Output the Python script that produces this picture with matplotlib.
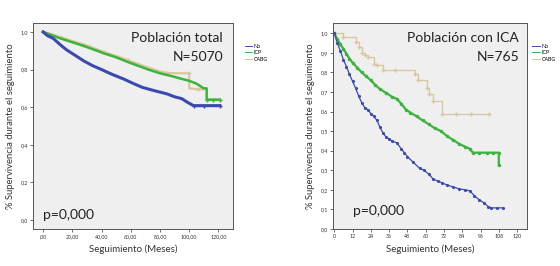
import matplotlib
matplotlib.use("Agg")
import matplotlib.pyplot as plt
from matplotlib.lines import Line2D

plt.rcParams['font.family'] = ['Lato', 'DejaVu Sans']

# ---- left panel: Poblacion total (N=5070) ----
tot_no_x = [0, 3, 7, 12, 16, 22, 28, 34, 40, 47, 55, 62, 68, 75, 80, 85, 90, 95, 99, 103, 110, 121]
tot_no_y = [1.0, 0.98, 0.965, 0.93, 0.905, 0.875, 0.845, 0.82, 0.80, 0.775, 0.75, 0.725, 0.705, 0.69, 0.68, 0.67, 0.655, 0.645, 0.625, 0.608, 0.608, 0.608]
tot_icp_x = [0, 5, 12, 20, 28, 35, 42, 50, 58, 65, 72, 80, 88, 95, 100, 105, 110, 112, 112, 116, 121]
tot_icp_y = [1.0, 0.985, 0.965, 0.945, 0.925, 0.905, 0.885, 0.865, 0.84, 0.82, 0.80, 0.78, 0.765, 0.75, 0.74, 0.725, 0.70, 0.70, 0.64, 0.64, 0.64]
tot_cabg_x = [0, 5, 12, 20, 28, 35, 42, 50, 58, 65, 72, 80, 85, 92, 100, 100, 106, 110]
tot_cabg_y = [1.0, 0.99, 0.972, 0.952, 0.933, 0.913, 0.893, 0.872, 0.85, 0.83, 0.81, 0.79, 0.782, 0.78, 0.78, 0.70, 0.695, 0.695]

# ---- right panel: Poblacion con ICA (N=765) ----
ica_no_x = [0, 2, 4, 6, 8, 10, 12, 14, 16, 18, 20, 22, 24, 26, 28, 30, 32, 34, 36, 38, 41, 44, 46, 48,
            52, 56, 59, 62, 65, 68, 71, 74, 78, 82, 86, 89, 92, 95, 98, 101, 103, 107, 111]
ica_no_y = [1.0, 0.95, 0.91, 0.865, 0.83, 0.79, 0.755, 0.72, 0.68, 0.645, 0.62, 0.61, 0.59, 0.575, 0.555, 0.52, 0.49, 0.47, 0.46, 0.45, 0.44, 0.41, 0.39, 0.37,
            0.34, 0.31, 0.30, 0.28, 0.255, 0.245, 0.235, 0.225, 0.215, 0.205, 0.20, 0.195, 0.17, 0.15, 0.135, 0.115, 0.108, 0.108, 0.108]
ica_icp_x = [0, 2, 4, 6, 8, 10, 12, 15, 18, 21, 24, 27, 30, 34, 38, 41, 44, 47, 50, 54, 58, 62, 66, 70,
             74, 78, 82, 86, 89, 91, 95, 100, 104, 108, 108]
ica_icp_y = [1.0, 0.97, 0.945, 0.92, 0.895, 0.87, 0.85, 0.825, 0.80, 0.78, 0.76, 0.735, 0.715, 0.695, 0.675, 0.665, 0.64, 0.61, 0.595, 0.575, 0.555, 0.535, 0.515, 0.50,
             0.475, 0.455, 0.435, 0.42, 0.41, 0.39, 0.39, 0.39, 0.39, 0.39, 0.325]
ica_cabg_x = [0, 6, 14, 16, 18, 20, 22, 26, 28, 32, 40, 53, 55, 61, 62, 64.5, 71, 80, 90, 101.5]
ica_cabg_y = [1.0, 0.98, 0.955, 0.93, 0.9, 0.89, 0.88, 0.845, 0.84, 0.81, 0.81, 0.79, 0.76, 0.72, 0.69, 0.655, 0.59, 0.59, 0.59, 0.59]

groups = ["No", "ICP", "CABG"]
colors = ["#3a4ab0", "#3cb43c", "#d8c79c"]

fig = plt.figure(figsize=(5.6, 2.66), dpi=100)
ax1 = fig.add_axes([0.059, 0.139, 0.357, 0.775])
ax2 = fig.add_axes([0.595, 0.139, 0.346, 0.775])

for ax in (ax1, ax2):
    ax.set_facecolor("#efefef")
    for s in ax.spines.values():
        s.set_color("#555555")
        s.set_linewidth(0.7)
    ax.tick_params(labelsize=3.8, length=2, width=0.5, colors="#333333", pad=1.5)
    ax.set_xlabel("Seguimiento (Meses)", fontsize=7, color="#333333")
    ax.set_ylabel("% Supervivencia durante el seguimiento", fontsize=6.8, color="#333333")

# left panel
ax1.plot(tot_cabg_x, tot_cabg_y, color=colors[2], lw=1.6, marker="+", ms=2.5, markevery=2)
ax1.plot(tot_icp_x, tot_icp_y, color=colors[1], lw=1.8)
ax1.plot(tot_no_x, tot_no_y, color=colors[0], lw=2.2)
ax1.plot(tot_icp_x[-3:], tot_icp_y[-3:], color=colors[1], lw=0.8, marker="+", ms=3)
ax1.plot(tot_no_x[-3:], tot_no_y[-3:], color=colors[0], lw=0.8, marker="+", ms=3)
ax1.set_xlim(-6.9, 130)
ax1.set_ylim(-0.048, 1.048)
ax1.set_xticks(range(0, 121, 20))
ax1.set_xticklabels([",00", "20,00", "40,00", "60,00", "80,00", "100,00", "120,00"])
ax1.set_yticks([0, 0.2, 0.4, 0.6, 0.8, 1.0])
ax1.set_yticklabels(["0,0", "0,2", "0,4", "0,6", "0,8", "1,0"])
ax1.text(0.95, 0.955, "Población total", transform=ax1.transAxes, ha="right", va="top", fontsize=10, color="#222222")
ax1.text(0.95, 0.865, "N=5070", transform=ax1.transAxes, ha="right", va="top", fontsize=10, color="#222222")
ax1.text(0.05, 0.04, "p=0,000", transform=ax1.transAxes, ha="left", va="bottom", fontsize=10, color="#222222")

# right panel
ax2.plot(ica_cabg_x, ica_cabg_y, color=colors[2], lw=0.9, drawstyle="steps-post", marker="+", ms=2.5)
ax2.plot(ica_icp_x, ica_icp_y, color=colors[1], lw=1.6, marker=".", ms=3)
ax2.plot(ica_no_x, ica_no_y, color=colors[0], lw=0.9, marker=".", ms=2.5)
ax2.set_xlim(-0.7, 126.5)
ax2.set_ylim(0, 1.053)
ax2.set_xticks(range(0, 121, 12))
ax2.set_yticks([i / 10 for i in range(11)])
ax2.set_yticklabels(["0,0", "0,1", "0,2", "0,3", "0,4", "0,5", "0,6", "0,7", "0,8", "0,9", "1,0"])
ax2.text(0.96, 0.955, "Población con ICA", transform=ax2.transAxes, ha="right", va="top", fontsize=10, color="#222222")
ax2.text(0.96, 0.865, "N=765", transform=ax2.transAxes, ha="right", va="top", fontsize=10, color="#222222")
ax2.text(0.1, 0.06, "p=0,000", transform=ax2.transAxes, ha="left", va="bottom", fontsize=10, color="#222222")

handles = [Line2D([], [], color=c, lw=0.7) for c in colors]
for x0 in (0.432, 0.946):
    fig.legend(handles, groups, loc="upper left", bbox_to_anchor=(x0, 0.845), frameon=False,
               fontsize=3.8, handlelength=1.5, handletextpad=0.2, labelspacing=0.25, borderpad=0)

fig.savefig("out.png", dpi=100)
